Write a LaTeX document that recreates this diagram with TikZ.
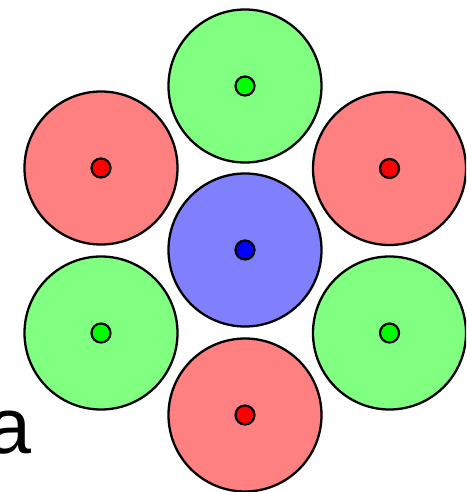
\documentclass[tikz,border=0pt]{standalone}
\usepackage{fontspec}
\setmainfont{Liberation Sans}
\definecolor{lgreen}{HTML}{80FF80}
\definecolor{lred}{HTML}{FF8080}
\definecolor{lblue}{HTML}{8080FF}
\definecolor{dgreen}{HTML}{00FF00}
\definecolor{dred}{HTML}{FF0000}
\definecolor{dblue}{HTML}{0000FF}
\tikzset{
  big/.style={circle,draw=black,line width=2.3pt,minimum size=153pt,inner sep=0pt},
  dot/.style={circle,draw=black,line width=2.2pt,minimum size=19pt,inner sep=0pt},
}
\begin{document}
\begin{tikzpicture}[x=1pt,y=-1pt]
\useasboundingbox (0,0) rectangle (466,492);
\clip (0,0) rectangle (466,492);
\node[big,fill=lgreen] (top) at (245,86) {};
\node[big,fill=lred] (ul) at (101,168) {};
\node[big,fill=lred] (ur) at (389.5,168.5) {};
\node[big,fill=lblue] (mid) at (245,250) {};
\node[big,fill=lgreen] (ll) at (101,333) {};
\node[big,fill=lgreen] (lr) at (389.5,333) {};
\node[big,fill=lred] (bot) at (245,415) {};
\node[dot,fill=dgreen] (topd) at (top.center) {};
\node[dot,fill=dred] (uld) at (ul.center) {};
\node[dot,fill=dred] (urd) at (ur.center) {};
\node[dot,fill=dblue] (midd) at (mid.center) {};
\node[dot,fill=dgreen] (lld) at (ll.center) {};
\node[dot,fill=dgreen] (lrd) at (lr.center) {};
\node[dot,fill=dred] (botd) at (bot.center) {};
\node[anchor=base west,inner sep=0pt,font=\fontsize{79}{79}\selectfont] (lab) at (-13,453) {a};
\end{tikzpicture}
\end{document}
